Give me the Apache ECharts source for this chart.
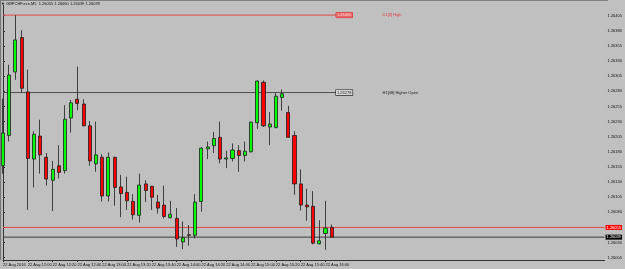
<!DOCTYPE html>
<html>
<head>
<meta charset="utf-8">
<script src="https://cdn.jsdelivr.net/npm/echarts@6/dist/echarts.min.js"></script>
<style>
html,body{margin:0;padding:0;background:#c0c0c0;}
#chart{width:625px;height:269px;}
</style>
</head>
<body>
<div id="chart"></div>
<script>
const symbolTitle = 'GBPCHF.ecn,M5  1.26055 1.26060 1.26039 1.26039';
const times = ['11:40','11:45','11:50','11:55','12:00','12:05','12:10','12:15','12:20','12:25','12:30','12:35',
  '12:40','12:45','12:50','12:55','13:00','13:05','13:10','13:15','13:20','13:25','13:30','13:35',
  '13:40','13:45','13:50','13:55','14:00','14:05','14:10','14:15','14:20','14:25','14:30','14:35',
  '14:40','14:45','14:50','14:55','15:00','15:05','15:10','15:15','15:20','15:25','15:30','15:35',
  '15:40','15:45','15:50','15:55','16:00','16:05'];
const opens = [1.26157,1.26207,1.26312,1.26369,1.26279,1.26168,1.26206,1.26171,1.26133,1.26157,1.26149,1.26236,
  1.26267,1.26259,1.26223,1.26160,1.26171,1.26107,1.26171,1.26122,1.26113,1.26098,1.26075,1.26127,
  1.26123,1.26097,1.26092,1.26071,1.26070,1.26031,1.26043,1.26042,1.26098,1.26185,1.26190,1.26204,
  1.26168,1.26169,1.26182,1.26174,1.26180,1.26228,1.26295,1.26221,1.26220,1.26270,1.26245,1.26207,
  1.26127,1.26092,1.26090,1.26028,1.26045,1.26055];
const closes = [1.26211,1.26307,1.26365,1.26285,1.26169,1.26209,1.26175,1.26135,1.26151,1.26146,1.26234,1.26261,
  1.26260,1.26223,1.26165,1.26175,1.26107,1.26171,1.26121,1.26111,1.26099,1.26076,1.26125,1.26116,
  1.26105,1.26087,1.26073,1.26077,1.26036,1.26038,1.26042,1.26097,1.26186,1.26188,1.26202,1.26168,
  1.26170,1.26183,1.26174,1.26181,1.26229,1.26297,1.26223,1.26226,1.26272,1.26276,1.26204,1.26127,
  1.26092,1.26089,1.26029,1.26033,1.26054,1.26039];
const highs = [1.26268,1.26324,1.26406,1.26381,1.26316,1.26214,1.26233,1.26178,1.26165,1.26191,1.26257,1.26266,
  1.26321,1.26267,1.26231,1.26230,1.26176,1.26179,1.26172,1.26142,1.26139,1.26110,1.26144,1.26133,
  1.26124,1.26109,1.26124,1.26099,1.26087,1.26065,1.26059,1.26110,1.26188,1.26197,1.26213,1.26230,
  1.26182,1.26194,1.26191,1.26197,1.26230,1.26298,1.26298,1.26246,1.26278,1.26283,1.26256,1.26214,
  1.26151,1.26119,1.26115,1.26067,1.26099,1.26060];
const lows = [1.26144,1.26197,1.26299,1.26278,1.26084,1.26121,1.26144,1.26124,1.26082,1.26136,1.26144,1.26212,
  1.26249,1.26222,1.26157,1.26147,1.26098,1.26098,1.26091,1.26072,1.26084,1.26068,1.26063,1.26097,
  1.26084,1.26078,1.26070,1.26070,1.26023,1.26019,1.26025,1.26037,1.26081,1.26168,1.26178,1.26161,
  1.26153,1.26164,1.26147,1.26164,1.26179,1.26218,1.26221,1.26191,1.26219,1.26248,1.26203,1.26109,
  1.26083,1.26066,1.26027,1.26027,1.26018,1.26039];
const priceTicks = [1.26005,1.26030,1.26055,1.26080,1.26105,1.26130,1.26155,1.26180,1.26205,1.26230,
  1.26255,1.26280,1.26305,1.26330,1.26355,1.26380,1.26405];
const d1High = 1.26406;
const h1Open = 1.26278;
const askPrice = 1.26055;
const bidPrice = 1.26039;
const futureSlots = 44;

const categories = times.concat(new Array(futureSlots).fill(''));
const candleData = opens.map((o, i) => [o, closes[i], lows[i], highs[i]]);
const lastIdx = times.length - 1;
const lastSlot = categories.length - 1;
const FS = 4;
const FF = '"Liberation Sans", Arial, sans-serif';

function levelSeries(price, lineColor, endX, label, textLabel, textColor, z) {
  const s = {
    type: 'line', xAxisIndex: 1, data: [[0, price], [endX, price]], symbol: 'none', z: z || 3,
    lineStyle: {color: lineColor, width: 1}, silent: true,
    endLabel: Object.assign({show: true, distance: 1, formatter: price.toFixed(5), fontSize: FS, fontFamily: FF,
      padding: [0.5, 1, 0.5, 1], lineHeight: 4}, label)
  };
  if (textLabel) {
    s.markPoint = {symbol: 'circle', symbolSize: 0, silent: true,
      data: [{coord: [61.2, price], label: {show: true, position: 'right', distance: 0, formatter: textLabel,
        color: textColor, fontSize: FS, fontFamily: FF}}]};
  }
  return s;
}

const chart = echarts.init(document.getElementById('chart'));
chart.setOption({
  backgroundColor: '#c0c0c0',
  animation: false,
  title: {
    text: '\u25BC ' + symbolTitle, left: 1, top: 2, padding: 0,
    textStyle: {fontSize: FS, fontWeight: 'normal', color: '#111', fontFamily: FF}
  },
  grid: {left: 1.7, right: 17, top: 5, bottom: 9},
  xAxis: [{
    type: 'category', data: categories, boundaryGap: false,
    axisLine: {lineStyle: {color: '#303030', width: 1}},
    axisTick: {show: true, length: 2, interval: (i) => i % 4 === 0 && i <= lastIdx, lineStyle: {color: '#303030'}},
    axisLabel: {
      interval: (i) => i % 4 === 0 && i <= lastIdx, align: 'left', margin: 3,
      fontSize: FS, color: '#111', fontFamily: FF,
      formatter: (v, i) => i === 0 ? '22 Aug 2016' : '22 Aug ' + v
    },
    splitLine: {show: false}
  }, {
    type: 'value', min: 0, max: lastSlot, show: false
  }],
  yAxis: {
    type: 'value', position: 'right', min: 1.260012, max: 1.264227, scale: true,
    axisLine: {show: true, lineStyle: {color: '#303030', width: 1}},
    axisTick: {show: true, length: 2, customValues: priceTicks, lineStyle: {color: '#303030'}},
    axisLabel: {customValues: priceTicks, margin: 3, fontSize: FS, color: '#111', fontFamily: FF,
      formatter: (v) => v.toFixed(5)},
    splitLine: {show: false}
  },
  series: [
    levelSeries(askPrice, '#e04848', lastSlot, {backgroundColor: '#ff0000', color: '#ffffff'}, null, null, 1),
    levelSeries(bidPrice, '#3a3a3a', lastSlot, {backgroundColor: '#000000', color: '#ffffff'}, null, null, 1),
    levelSeries(d1High, '#e84848', 53.7, {distance: 0, backgroundColor: '#e86464', borderColor: '#d03030',
      borderWidth: 0.5, color: '#fbe0e0'}, 'D1[3] High', '#e03a3a'),
    levelSeries(h1Open, '#505050', 53.7, {distance: 0, backgroundColor: '#d8d8d8', borderColor: '#202020',
      borderWidth: 0.6, color: '#202020'}, 'H1[48] Higher Open', '#202020'),
    {
      type: 'candlestick', data: candleData, barWidth: 3.6, clip: false, z: 5,
      itemStyle: {color: '#00ff00', color0: '#ff0000', borderColor: '#1e1e1e', borderColor0: '#1e1e1e', borderWidth: 0.8}
    }
  ],
  graphic: [
    {type: 'rect', left: 0, top: 0, shape: {width: 1.2, height: 260}, style: {fill: '#7a7a7a'}, z: 100},
    {type: 'rect', left: 0, top: 0, shape: {width: 608, height: 1}, style: {fill: '#808080'}, z: 100}
  ]
});
</script>
</body>
</html>
